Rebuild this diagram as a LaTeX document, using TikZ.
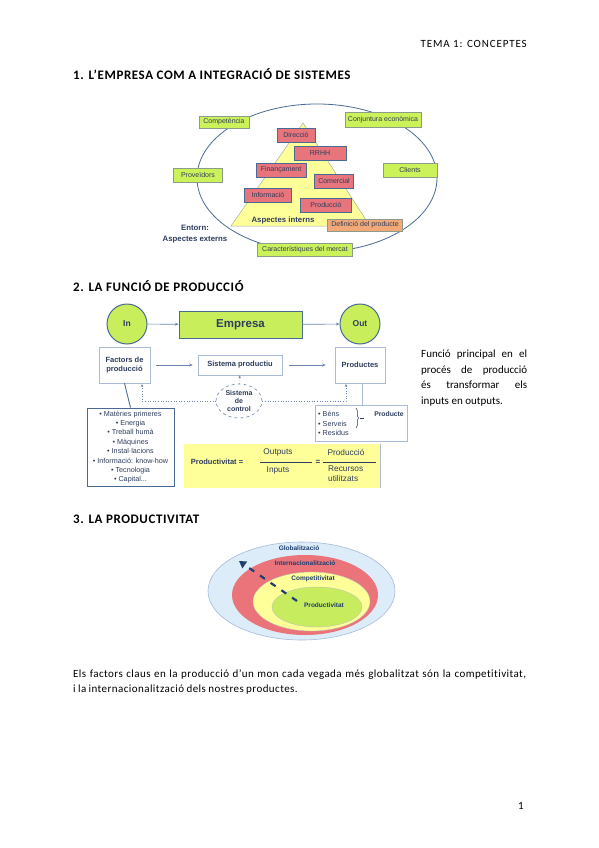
\documentclass[tikz,border=0pt]{standalone}
\usepackage{fontspec}
\setmainfont[Ligatures=NoCommon]{Carlito}
\newfontfamily\arialf{Liberation Sans}
\newfontfamily\titlef[LetterSpace=4.5,Ligatures=NoCommon]{Carlito}
\newfontfamily\hdrf[LetterSpace=8]{Carlito}
\newfontfamily\bodyf[LetterSpace=4,WordSpace=0.8,Ligatures=NoCommon]{Carlito}
\usetikzlibrary{arrows.meta,decorations.pathreplacing,shapes.geometric}
\definecolor{redf}{HTML}{E8747C}
\definecolor{greenf}{HTML}{CCF25A}
\definecolor{yelf}{HTML}{FFFF99}
\definecolor{orf}{HTML}{F2A977}
\definecolor{bb}{HTML}{4A6A96}
\definecolor{gb}{HTML}{8C9C8C}
\definecolor{txtd}{HTML}{2E3D5C}
\definecolor{limef}{HTML}{C9EE5C}
\definecolor{lblue}{HTML}{DDECF9}
\definecolor{navy}{HTML}{1F3F70}
\definecolor{lineb}{HTML}{6A86B0}
\definecolor{lightb}{HTML}{A9BBD6}
\definecolor{redell}{HTML}{EA7479}
\definecolor{greenell}{HTML}{C7EC5E}
\tikzset{
  pagetxt/.style={inner sep=0pt, font=\bodyf\fontsize{11}{13}\selectfont},
  titletxt/.style={inner sep=0pt, anchor=base west, font=\titlef\fontsize{13}{15}\selectfont\bfseries},
  redbox/.style={draw=bb, fill=redf, line width=0.5pt, inner sep=0pt, minimum height=14pt, text=txtd, font=\arialf\fontsize{7}{7.5}\selectfont},
  greenbox/.style={draw=gb, fill=greenf, line width=0.5pt, inner sep=0pt, minimum height=13pt, text=txtd, font=\arialf\fontsize{7}{7.5}\selectfont},
  circ/.style={circle, draw=bb, fill=limef, line width=1pt, minimum size=40pt, inner sep=0pt, text=txtd, font=\arialf\bfseries\fontsize{8.5}{9}\selectfont},
  wbox/.style={draw=lightb, fill=white, line width=0.6pt, inner sep=0pt, text=txtd, font=\arialf\bfseries\fontsize{7.5}{9}\selectfont, align=center},
  arr/.style={draw=lineb, line width=0.7pt, -{Stealth[length=3.5pt,width=3pt]}},
  darr/.style={draw=lineb, line width=0.6pt, dotted, -{Stealth[length=3pt,width=2.5pt]}},
  d2txt/.style={inner sep=0pt, text=txtd, font=\arialf\fontsize{8.3}{9}\selectfont},
  d3lab/.style={inner sep=0pt, text=navy, font=\arialf\bfseries\fontsize{6.5}{7}\selectfont},
}
\begin{document}
\begin{tikzpicture}[x=1pt,y=-1pt]
\useasboundingbox (0,0) rectangle (599,848);
\fill[white] (0,0) rectangle (599,848);

% header
\node[inner sep=0pt, anchor=base east, font=\hdrf\fontsize{11}{12}\selectfont] (hdr) at (527,48) {TEMA 1: CONCEPTES};

% ===== section 1 =====
\node[titletxt] (t1) at (73,80) {1. L’EMPRESA COM A INTEGRACIÓ DE SISTEMES};

\draw[draw=bb, line width=0.8pt] (317,178) ellipse [x radius=120, y radius=74];
\filldraw[fill=yelf, draw=gb!80, line width=0.5pt] (303,123) -- (370,226) -- (231,226) -- cycle;

\node[redbox, minimum width=38pt] (dir) at (296,135) {Direcció};
\node[redbox, minimum width=52pt] (rrhh) at (320,153) {RRHH};
\node[redbox, minimum width=50pt] (fin) at (281,170) {Finançament};
\node[redbox, minimum width=39pt] (com) at (334,181) {Comercial};
\node[redbox, minimum width=47pt] (inf) at (268,195) {Informació};
\node[redbox, minimum width=51pt] (prd1) at (326,205) {Producció};
\node[inner sep=0pt, text=txtd, font=\arialf\bfseries\fontsize{7.8}{8}\selectfont] (ai) at (283,220) {Aspectes interns};
\node[redbox, fill=orf, draw=gb, minimum width=75pt, minimum height=12pt] (def) at (365,225) {Definició del producte};

\node[greenbox, minimum width=50pt, minimum height=12pt] (cmp) at (224,122) {Competència};
\node[greenbox, minimum width=76pt, minimum height=15pt] (conj) at (383,120) {Conjuntura econòmica};
\node[greenbox, minimum width=49pt, minimum height=14pt] (prov) at (198,175) {Proveïdors};
\node[greenbox, minimum width=54pt, minimum height=14pt] (cli) at (410,170) {Clients};
\node[greenbox, minimum width=95pt, minimum height=13pt] (car) at (305,250) {Característiques del mercat};
\node[inner sep=0pt, align=center, text=txtd, font=\arialf\bfseries\fontsize{7.8}{10.5}\selectfont] (ent) at (195,234) {Entorn:\\Aspectes externs};

% ===== section 2 =====
\node[titletxt] (t2) at (73,291) {2. LA FUNCIÓ DE PRODUCCIÓ};

\node[circ] (inC) at (127,324) {In};
\node[draw=bb, fill=limef, line width=1pt, minimum width=123pt, minimum height=27pt, inner sep=0pt, text=txtd, font=\arialf\bfseries\fontsize{11.5}{12}\selectfont] (emp) at (240.5,324.5) {Empresa};
\node[circ] (outC) at (360,324) {Out};
\draw[arr] (inC) -- (emp);
\draw[arr] (emp) -- (outC);

\node[wbox, minimum width=51pt, minimum height=36pt] (fac) at (124.5,365) {Factors de\\producció};
\node[wbox, minimum width=84pt, minimum height=20pt] (sp) at (240,365) {Sistema productiu};
\node[wbox, minimum width=50pt, minimum height=36pt] (prd) at (360,365) {Productes};
\draw[arr, shorten <=6pt, shorten >=5pt] (fac) -- (sp);
\draw[arr, shorten <=7pt, shorten >=9pt] (sp) -- (prd);

\node[ellipse, draw=lineb, dashed, line width=0.6pt, fill=white, minimum width=46pt, minimum height=34pt, inner sep=0pt, align=center, text=txtd, font=\arialf\bfseries\fontsize{7}{7.8}\selectfont] (ctl) at (239,401) {Sistema\\de\\control};
\coordinate (facb) at (142,384);
\coordinate (prdb) at (346,384);
\draw[darr] (ctl) -- (sp);
\draw[darr] (ctl.west) -| (facb);
\draw[darr] (ctl.east) -| (prdb);

\node[draw=bb, line width=0.9pt, fill=white, minimum width=87pt, minimum height=78pt, inner sep=0pt] (lst) at (130.5,447) {};
\draw[draw=bb, line width=0.9pt] (fac.south) -- (lst.north);
\node[inner sep=0pt, align=center, text=txtd, font=\arialf\fontsize{7.2}{9.4}\selectfont] (lsttxt) at (lst.center) {• Matèries primeres\\• Energia\\• Treball humà\\• Màquines\\• Instal·lacions\\• Informació: know-how\\• Tecnologia\\• Capital...};

\node[draw=lightb, line width=0.6pt, fill=white, minimum width=92pt, minimum height=36pt, inner sep=0pt] (bsr) at (361,423) {};
\draw[draw=lightb, line width=0.6pt] (362,383) -- (362,405);
\node[inner sep=0pt, anchor=west, align=left, text=txtd, font=\arialf\fontsize{7.2}{9.6}\selectfont] (bsrtxt) at (318,423.5) {• Béns\\• Serveis\\• Residus};
\draw[decorate, decoration={brace, amplitude=2.5pt}, draw=txtd, line width=0.5pt] (356,408) -- (356,428);
\draw[draw=txtd, line width=0.5pt] (360,418) -- (364,418);
\node[inner sep=0pt, text=txtd, font=\arialf\bfseries\fontsize{6.8}{8}\selectfont] (pte) at (389,414) {Producte};

\node[fill=yelf, minimum width=196pt, minimum height=44pt, inner sep=0pt] (ptv) at (282,466) {};
\draw[draw=lightb, line width=1pt] (ptv.north east) -- (ptv.south east);
\node[inner sep=0pt, text=txtd, font=\arialf\bfseries\fontsize{7.5}{8}\selectfont] (ptvl) at (217,462) {Productivitat =};
\node[d2txt] (outp) at (278,452) {Outputs};
\node[d2txt] (inp) at (278,471) {Inputs};
\draw[draw=txtd, line width=0.5pt] (260,462) -- (312,462);
\node[d2txt, font=\arialf\bfseries\fontsize{8}{9}\selectfont] (eq) at (318,462) {=};
\node[d2txt] (prdc) at (346,452) {Producció};
\draw[draw=txtd, line width=0.5pt] (323,462) -- (376,462);
\node[d2txt, align=left, anchor=north west, font=\arialf\fontsize{8.3}{10}\selectfont] (rec) at (328,466) {Recursos\\utilitzats};

\node[inner sep=0pt, anchor=north west, align=left, font=\fontsize{11}{15.5}\selectfont] (fp) at (421,350)
 {\hbox to 106pt{Funció principal en el}\\\hbox to 106pt{procés de producció}\\\hbox to 106pt{és transformar els}\\inputs en outputs.};

% ===== section 3 =====
\node[titletxt] (t3) at (73,523) {3. LA PRODUCTIVITAT};

\filldraw[fill=lblue, draw=lightb, line width=0.6pt] (301.5,591) ellipse [x radius=93.5, y radius=49];
\fill[redell] (305,595) ellipse [x radius=73, y radius=40];
\filldraw[fill=yelf, draw=gb!60, line width=0.4pt] (311.5,601.5) ellipse [x radius=58.5, y radius=29.5];
\filldraw[fill=greenell, draw=gb!60, line width=0.4pt] (317,607) ellipse [x radius=45, y radius=20];
\node[d3lab] (glob) at (299,548) {Globalització};
\node[d3lab] (intl) at (305,563) {Internacionalització};
\node[d3lab] (cmpt) at (313,579) {Competitivitat};
\node[d3lab] (prdv) at (324,605) {Productivitat};
\coordinate (arS) at (297,601);
\coordinate (arE) at (239,561);
\draw[draw=navy, line width=2.2pt, dash pattern=on 6pt off 7pt, -{Triangle[length=7pt,width=8pt]}] (arS) -- (arE);

\node[pagetxt, anchor=base west] (b1) at (73,677) {\hbox to 453pt{Els factors claus en la producció d’un mon cada vegada més globalitzat són la competitivitat,}};
\node[pagetxt, anchor=base west] (b2) at (73,692) {i la internacionalització dels nostres productes.};

\node[inner sep=0pt, font=\fontsize{11}{13}\selectfont, anchor=base] (pg) at (521,809) {1};
\end{tikzpicture}
\end{document}
